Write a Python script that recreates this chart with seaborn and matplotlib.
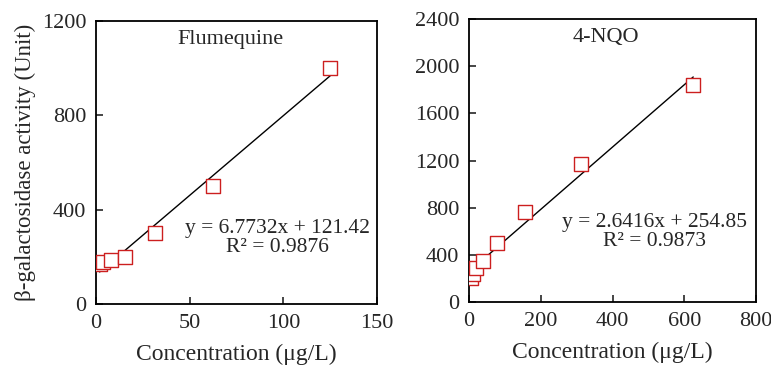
import numpy as np
import pandas as pd
import matplotlib
matplotlib.use("Agg")
import matplotlib.pyplot as plt
import seaborn as sns

# Flumequine data
flu_conc = [1.95, 3.9, 7.8, 15.6, 31.25, 62.5, 125]
flu_act = [170, 180, 185, 200, 300, 500, 1000]

# 4-NQO data
nqo_conc = [4.9, 9.8, 19.5, 39, 78, 156, 312.5, 625]
nqo_act = [200, 240, 285, 350, 500, 760, 1170, 1840]

titles = ["Flumequine", "4-NQO"]
equations = ["y = 6.7732x + 121.42\nR² = 0.9876", "y = 2.6416x + 254.85\nR² = 0.9873"]

sns.set_style("white")
plt.rcParams["font.family"] = ["Liberation Serif", "DejaVu Serif"]

fig = plt.figure(figsize=(7.71, 3.67), dpi=100)
ax1 = fig.add_axes([96 / 771, 1 - 304 / 367, 281 / 771, 283 / 367])
ax2 = fig.add_axes([469 / 771, 1 - 302 / 367, 287 / 771, 283 / 367])

panels = [
    (ax1, flu_conc, flu_act, (0, 150), np.arange(0, 151, 50), (0, 1200), np.arange(0, 1201, 400), 0.233),
    (ax2, nqo_conc, nqo_act, (0, 800), np.arange(0, 801, 200), (0, 2400), np.arange(0, 2401, 400), 0.247),
]

for i, (ax, xs, ys, xl, xt, yl, yt, ey) in enumerate(panels):
    df = pd.DataFrame({"conc": xs, "act": ys})
    sns.regplot(data=df, x="conc", y="act", ax=ax, scatter=False, ci=None,
                line_kws={"color": "black", "lw": 1})
    sns.scatterplot(data=df, x="conc", y="act", ax=ax, marker="s", s=110,
                    facecolor="white", edgecolor="#cc1f1f", linewidth=1.0, zorder=3)
    ax.set_xlim(xl)
    ax.set_ylim(yl)
    ax.set_xticks(xt)
    ax.set_yticks(yt)
    ax.tick_params(direction="in", length=5, width=1.2, labelsize=16, pad=7,
                   bottom=True, left=True)
    for sp in ax.spines.values():
        sp.set_linewidth(1.3)
        sp.set_color("black")
    ax.set_xlabel("Concentration (μg/L)", fontsize=17, labelpad=8)
    ax.set_ylabel("")
    ax.text(0.477, 0.935, titles[i], transform=ax.transAxes, ha="center", va="center", fontsize=16)
    ax.text(0.646, ey, equations[i], transform=ax.transAxes, ha="center", va="center",
            fontsize=15.5, linespacing=1.0)

ax1.set_ylabel("β-galactosidase activity (Unit)", fontsize=16.5, labelpad=4)

fig.savefig("out.png", dpi=100)
